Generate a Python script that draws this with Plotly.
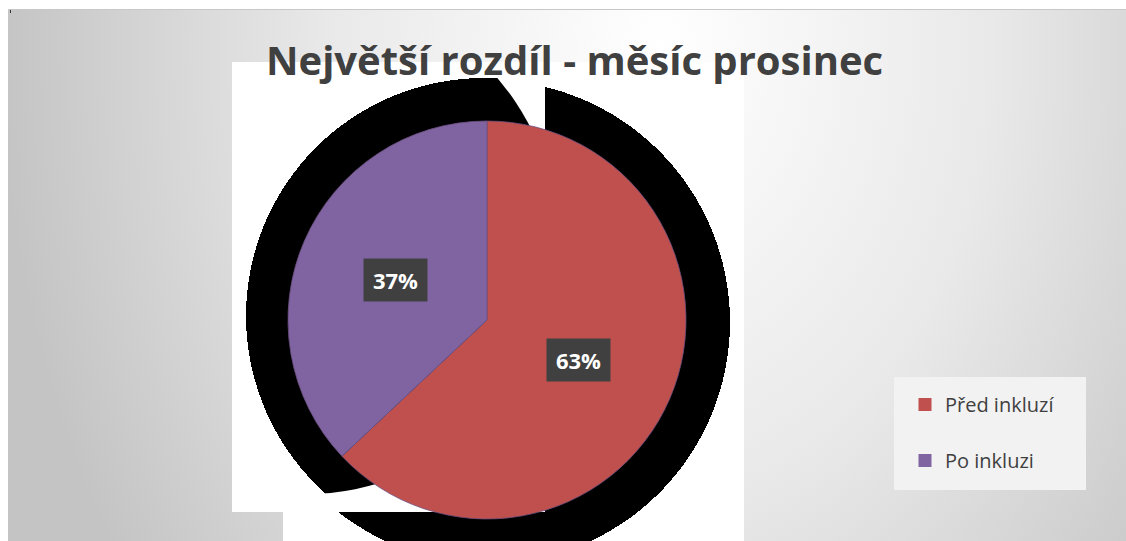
import base64
import math
import plotly.graph_objects as go

# ---------------- data ----------------
categories = ["Před inkluzí", "Po inkluzi"]
values = [63, 37]
colors = ["#C0504D", "#8064A2"]
title_text = "Největší rozdíl - měsíc prosinec"

# ---------------- layout constants ----------------
W, H = 1126, 541
PCX, PCY, PR = 487, 320, 199  # pie centre / radius (px)

# ---------------- background (gradient, white plot panel, shadow artefact) ----------------
svg = f'''<svg xmlns="http://www.w3.org/2000/svg" width="{W}" height="{H}" viewBox="0 0 {W} {H}" shape-rendering="crispEdges">
<defs>
 <radialGradient id="g" gradientUnits="userSpaceOnUse" cx="660" cy="50" r="660"
   gradientTransform="translate(660 50) scale(1 1.36) translate(-660 -50)">
  <stop offset="0" stop-color="#ffffff"/>
  <stop offset="0.5" stop-color="#e9e9e9"/>
  <stop offset="1" stop-color="#c4c4c4"/>
 </radialGradient>
 <clipPath id="cL"><rect x="232" y="62" width="313" height="450"/></clipPath>
 <clipPath id="cR"><rect x="545" y="62" width="199" height="450"/></clipPath>
 <clipPath id="cB"><rect x="283" y="512" width="461" height="29"/></clipPath>
 <clipPath id="cc"><circle cx="306" cy="242" r="252"/></clipPath>
</defs>
<rect x="0" y="0" width="{W}" height="{H}" fill="#ffffff"/>
<rect x="8" y="9" width="{W-8}" height="{H-9}" fill="url(#g)"/>
<rect x="8" y="9" width="{W-8}" height="1" fill="#c8c8c8"/>
<rect x="10" y="10" width="1" height="3" fill="#333333"/>
<rect x="232" y="62" width="512" height="450" fill="#ffffff"/>
<rect x="283" y="512" width="461" height="29" fill="#ffffff"/>
<g clip-path="url(#cL)"><g clip-path="url(#cc)"><circle cx="484" cy="316" r="238" fill="#000000"/></g></g>
<g clip-path="url(#cR)"><circle cx="488" cy="322" r="242" fill="#000000"/></g>
<g clip-path="url(#cB)"><circle cx="488" cy="322" r="242" fill="#000000"/></g>
</svg>'''
bg_src = "data:image/svg+xml;base64," + base64.b64encode(svg.encode("utf-8")).decode("ascii")

fig = go.Figure()

# ---------------- pie ----------------
fig.add_trace(go.Pie(
    labels=categories,
    values=values,
    sort=False,
    direction="clockwise",
    rotation=0,
    marker=dict(colors=colors, line=dict(color="#6b4f7f", width=0.8)),
    textinfo="none",
    hoverinfo="label+percent",
    showlegend=False,
    domain=dict(x=[(PCX - PR) / W, (PCX + PR) / W],
                y=[1 - (PCY + PR) / H, 1 - (PCY - PR) / H]),
))

# ---------------- legend entries ----------------
for i, (c, col) in enumerate(zip(categories, colors)):
    fig.add_trace(go.Scatter(
        x=[None], y=[None], mode="markers", name=c,
        marker=dict(symbol="square", size=13, color=col),
        legendgroup=f"g{i}", showlegend=True, hoverinfo="skip",
    ))

# ---------------- percentage labels ----------------
total = sum(values)
annotations = []
cum = 0
for v in values:
    theta = 2 * math.pi * (cum + v / 2) / total
    cum += v
    px = PCX + 0.5 * PR * math.sin(theta)
    py = PCY - 0.5 * PR * math.cos(theta)
    annotations.append(dict(
        x=px / W, y=1 - py / H, xref="paper", yref="paper",
        text=f"<b>{round(100 * v / total)}%</b>", showarrow=False,
        xanchor="center", yanchor="middle",
        width=63, height=42, borderpad=0,
        bgcolor="#404040",
        font=dict(family="Open Sans", size=22, color="#ffffff"),
    ))

# title
annotations.append(dict(
    x=574 / W, y=1 - 59 / H, xref="paper", yref="paper",
    text="<b>" + title_text + "</b>", showarrow=False,
    xanchor="center", yanchor="middle",
    font=dict(family="Open Sans", size=40, color="#404040"),
))

fig.update_layout(
    width=W, height=H,
    margin=dict(l=0, r=0, t=0, b=0),
    paper_bgcolor="#ffffff",
    plot_bgcolor="rgba(0,0,0,0)",
    xaxis=dict(visible=False, range=[0, 1], fixedrange=True),
    yaxis=dict(visible=False, range=[0, 1], fixedrange=True),
    images=[dict(source=bg_src, xref="paper", yref="paper", x=0, y=1,
                 sizex=1, sizey=1, xanchor="left", yanchor="top",
                 sizing="stretch", layer="below")],
    shapes=[dict(type="rect", xref="paper", yref="paper",
                 x0=894 / W, x1=1086 / W, y0=1 - 490 / H, y1=1 - 377 / H,
                 fillcolor="#f2f2f2", line=dict(width=0), layer="below")],
    legend=dict(
        x=905 / W, y=1 - 385 / H, xanchor="left", yanchor="top",
        bgcolor="rgba(0,0,0,0)", borderwidth=0,
        traceorder="grouped", tracegroupgap=27,
        font=dict(family="Open Sans", size=20, color="#404040"),
        itemclick=False, itemdoubleclick=False,
    ),
    annotations=annotations,
)

fig.write_html("out.html")
